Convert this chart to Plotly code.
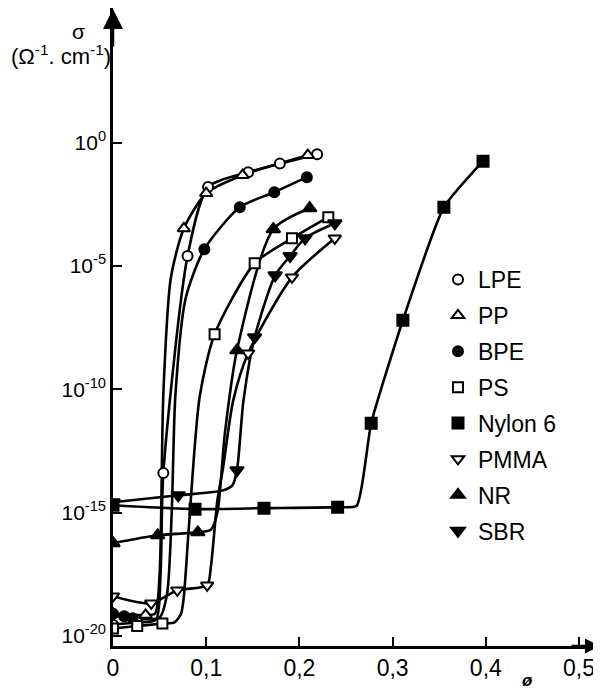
import plotly.graph_objects as go

# Volume fraction of carbon black (phi) and log10 of conductivity sigma (ohm^-1 cm^-1)
# Marker points per polymer
lpe_phi = [0, 0.026, 0.054, 0.08, 0.102, 0.145, 0.179, 0.219]
lpe_log = [-19.55, -19.45, -13.4, -4.6, -1.8, -1.2, -0.85, -0.47]
pp_phi = [0, 0.035, 0.076, 0.1, 0.139, 0.209]
pp_log = [-19.1, -19.15, -3.48, -2.05, -1.32, -0.51]
bpe_phi = [0, 0.012, 0.021, 0.098, 0.136, 0.173, 0.208]
bpe_log = [-19.1, -19.2, -19.28, -4.32, -2.62, -2.01, -1.4]
ps_phi = [0, 0.026, 0.053, 0.109, 0.152, 0.192, 0.231]
ps_log = [-19.7, -19.6, -19.5, -7.77, -4.89, -3.88, -3.02]
nylon_phi = [0, 0.088, 0.162, 0.241, 0.277, 0.311, 0.355, 0.397]
nylon_log = [-14.7, -14.86, -14.82, -14.78, -11.38, -7.2, -2.62, -0.75]
pmma_phi = [0, 0.041, 0.069, 0.101, 0.145, 0.192, 0.238]
pmma_log = [-18.39, -18.68, -18.15, -17.95, -8.54, -5.46, -3.88]
nr_phi = [0, 0.048, 0.091, 0.133, 0.172, 0.211]
nr_log = [-16.24, -15.92, -15.8, -8.42, -3.51, -2.66]
sbr_phi = [0, 0.07, 0.133, 0.152, 0.174, 0.19, 0.206, 0.238]
sbr_log = [-14.58, -14.3, -13.28, -7.89, -5.38, -4.6, -3.88, -3.27]

# Extra points (no marker there)
lpe_curve_phi = [0.046, 0.051]
lpe_curve_log = [-19.35, -17.5]
pp_curve_phi = [0.045, 0.05, 0.054, 0.062]
pp_curve_log = [-19.1, -17.5, -10.2, -5.5]
bpe_curve_phi = [0.05, 0.058, 0.063, 0.067, 0.078]
bpe_curve_log = [-19.25, -18.3, -15.0, -10.2, -6.3]
ps_curve_phi = [0.066, 0.073, 0.076, 0.081, 0.093]
ps_curve_log = [-19.45, -19.1, -18.4, -15.8, -10.3]
nylon_curve_phi = [0.2615]
nylon_curve_log = [-14.72]
pmma_curve_phi = [0.105, 0.112, 0.118, 0.129]
pmma_curve_log = [-17.2, -14.5, -13.2, -10.45]
nr_curve_phi = [0.105, 0.112, 0.12]
nr_curve_log = [-15.7, -15.0, -11.8]
sbr_curve_phi = [0.118, 0.128, 0.14]
sbr_curve_log = [-14.1, -13.9, -10.45]

x_tick_vals = [0, 0.1, 0.2, 0.3, 0.4, 0.5]
x_tick_text = ["0", "0,1", "0,2", "0,3", "0,4", "0,5"]
y_tick_exps = [0, -5, -10, -15, -20]

FONT = "Liberation Sans, Arial, sans-serif"

series = [
    ("LPE", lpe_phi, lpe_log, lpe_curve_phi, lpe_curve_log, "circle", "white", 10),
    ("PP", pp_phi, pp_log, pp_curve_phi, pp_curve_log, "triangle-up", "white", 11),
    ("BPE", bpe_phi, bpe_log, bpe_curve_phi, bpe_curve_log, "circle", "black", 10),
    ("PS", ps_phi, ps_log, ps_curve_phi, ps_curve_log, "square", "white", 10),
    ("Nylon 6", nylon_phi, nylon_log, nylon_curve_phi, nylon_curve_log, "square", "black", 11),
    ("PMMA", pmma_phi, pmma_log, pmma_curve_phi, pmma_curve_log, "triangle-down", "white", 11),
    ("NR", nr_phi, nr_log, nr_curve_phi, nr_curve_log, "triangle-up", "black", 12),
    ("SBR", sbr_phi, sbr_log, sbr_curve_phi, sbr_curve_log, "triangle-down", "black", 12),
]

fig = go.Figure()

# curves first
for name, px, pl, cx, cl, sym, fill, size in series:
    pts = sorted(zip(px + cx, pl + cl))
    fig.add_trace(go.Scatter(
        x=[p[0] for p in pts], y=[10 ** p[1] for p in pts],
        mode="lines", showlegend=False, hoverinfo="skip",
        line=dict(color="black", width=2.6,
                  shape="spline", smoothing=0.7 if name != "Nylon 6" else 0.5),
    ))

# markers on top
for name, px, pl, cx, cl, sym, fill, size in series:
    fig.add_trace(go.Scatter(
        x=px, y=[10 ** v for v in pl], mode="markers", name=name,
        legendgroup=name,
        marker=dict(symbol=sym, size=size, color=fill,
                    line=dict(color="black", width=2)),
    ))

# page body has an 8px margin; figure is sized to fit the 601x689 window
W, H = 593, 681
L, R, T, B = 105, 1, 0, 43
OFF = 8
pw, ph = W - L - R, H - T - B


def px2paper(xp, yp):
    """Reference-window pixel position -> paper coordinates."""
    return (xp - OFF - L) / pw, 1 - (yp - OFF - T) / ph


leg_x, leg_y = px2paper(438, 258)

fig.update_layout(
    width=W, height=H,
    margin=dict(l=L, r=R, t=T, b=B),
    paper_bgcolor="white", plot_bgcolor="white",
    font=dict(family=FONT, color="black"),
    showlegend=True,
    legend=dict(
        x=leg_x, y=leg_y, xanchor="left", yanchor="top",
        font=dict(size=23, family=FONT, color="black"),
        bgcolor="rgba(0,0,0,0)", borderwidth=0,
        itemwidth=30, tracegroupgap=3,
    ),
    xaxis=dict(
        range=[0, 0.5225], showgrid=False, zeroline=False,
        showline=True, linecolor="black", linewidth=2.5,
        ticks="inside", ticklen=9, tickwidth=2, tickcolor="black",
        tickvals=x_tick_vals, ticktext=x_tick_text,
        tickfont=dict(size=23, family=FONT, color="black"),
    ),
    yaxis=dict(
        type="log", range=[-20.41, 5.46], showgrid=False, zeroline=False,
        showline=True, linecolor="black", linewidth=2.5,
        ticks="inside", ticklen=9, tickwidth=2, tickcolor="black",
        tickvals=[10 ** e for e in y_tick_exps],
        ticktext=["10<sup>%d</sup>" % e for e in y_tick_exps],
        tickfont=dict(size=21, family=FONT, color="black"),
    ),
)

# axis arrows
fig.add_annotation(x=0, y=1, xref="x", yref="paper", text="", showarrow=True,
                   ax=0, ay=40, arrowhead=2, arrowsize=1.6, arrowwidth=2.5,
                   arrowcolor="black", standoff=0)
fig.add_annotation(x=1, y=0, xref="paper", yref="y domain", text="", showarrow=True,
                   ax=-30, ay=0, arrowhead=2, arrowsize=1.2, arrowwidth=2.5,
                   arrowcolor="black", standoff=0)

# axis titles (centre positions in reference pixels)
for xp, yp, txt, size in [
    (78, 32, "σ", 21),
    (61, 55, "(Ω<sup>-1</sup>. cm<sup>-1</sup>)", 22),
    (527, 681, "<b><i>ø</i></b>", 17),
]:
    ax_, ay_ = px2paper(xp, yp)
    fig.add_annotation(x=ax_, y=ay_, xref="paper", yref="paper", text=txt,
                       showarrow=False, xanchor="center", yanchor="middle",
                       font=dict(size=size, family=FONT, color="black"))

fig.write_html("out.html")
